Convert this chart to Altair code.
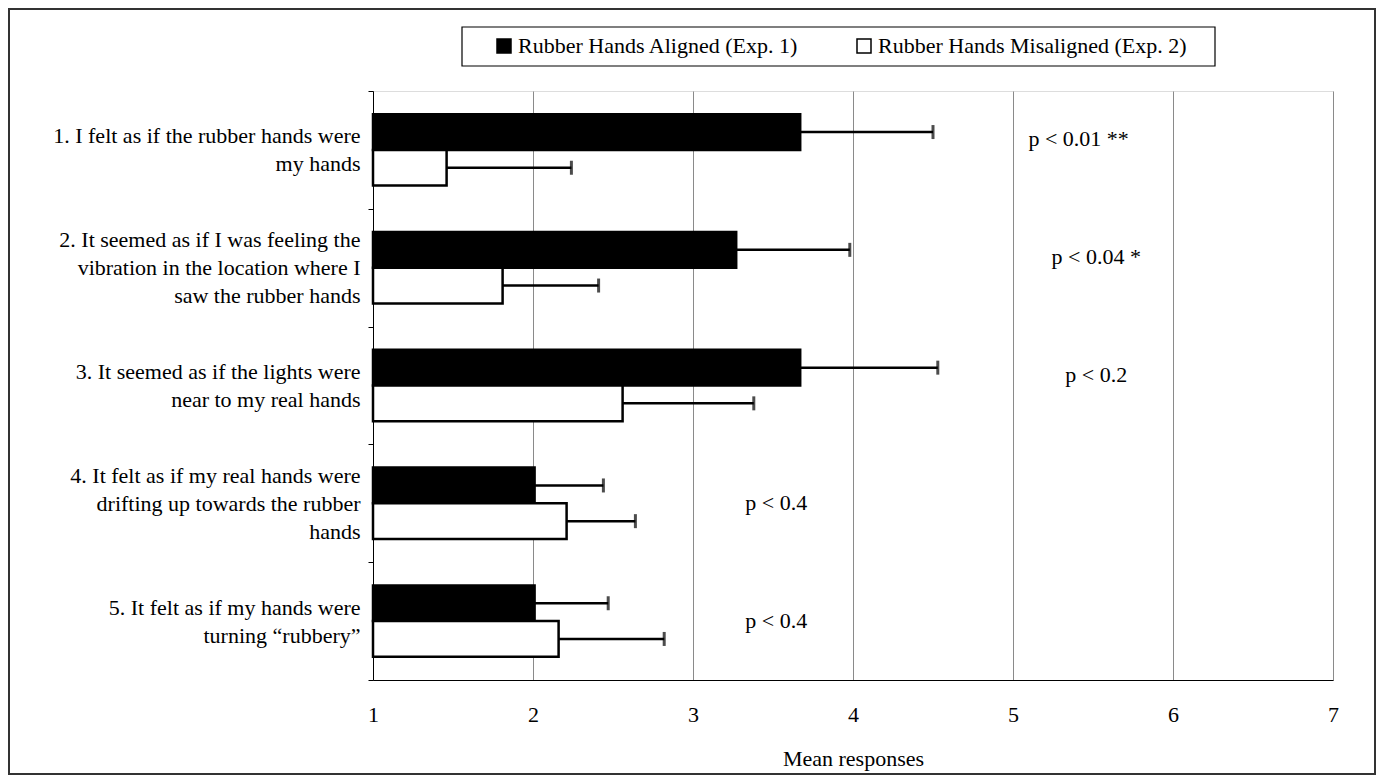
import altair as alt
import pandas as pd

categories = [
    "1. I felt as if the rubber hands were|my hands",
    "2. It seemed as if I was feeling the|vibration in the location where I|saw the rubber hands",
    "3. It seemed as if the lights  were|near to my real hands",
    "4. It felt as if my real hands were|drifting up towards the rubber|hands",
    "5. It felt as if my hands were|turning \u201crubbery\u201d",
]
series = ["Rubber Hands Aligned (Exp. 1)", "Rubber Hands Misaligned (Exp. 2)"]
aligned_mean = [3.67, 3.27, 3.67, 2.01, 2.01]
aligned_err_end = [4.50, 3.98, 4.53, 2.44, 2.47]
misaligned_mean = [1.46, 1.81, 2.56, 2.21, 2.16]
misaligned_err_end = [2.24, 2.41, 3.38, 2.64, 2.82]
p_labels = ["p < 0.01 **", "p < 0.04 *", "p < 0.2", "p < 0.4", "p < 0.4"]
p_x = [5.41, 5.52, 5.52, 3.52, 3.52]
x_ticks = [1, 2, 3, 4, 5, 6, 7]

rows = []
for i, c in enumerate(categories):
    rows.append({"cat": c, "series": series[0], "base": 1, "mean": aligned_mean[i], "err": aligned_err_end[i]})
    rows.append({"cat": c, "series": series[1], "base": 1, "mean": misaligned_mean[i], "err": misaligned_err_end[i]})
df = pd.DataFrame(rows)

pdf = pd.DataFrame({"cat": categories, "x": p_x, "label": p_labels})

FONT = "Liberation Serif"
FS = 22
W, H = 960, 589

yscale = alt.Scale(domain=categories, paddingInner=0, paddingOuter=0)
ysort = categories
xscale = alt.Scale(domain=[1, 7], nice=False, zero=False)

label_offset = {
    "condition": {"test": "length(split(datum.value, '|')) >= 3", "value": -28},
    "value": -14,
}

y_enc = alt.Y("cat:N", sort=ysort, scale=yscale, title=None,
              axis=alt.Axis(labelExpr="split(datum.label, '|')", labelFont=FONT, labelFontSize=FS,
                            labelLineHeight=28, labelLimit=500, labelAlign="right",
                            labelPadding=8, tickSize=5, tickBand="extent", tickColor="black",
                            domainColor="black", labelColor="black", grid=False,
                            labelOffset=label_offset))
yoff = alt.YOffset("series:N", sort=series, scale=alt.Scale(domain=series, paddingOuter=0.65, paddingInner=0))

x_axis = alt.Axis(values=x_ticks, format="d", grid=True, gridColor="#8a8a8a", gridWidth=1, ticks=False,
                  domainColor="black", labelFont=FONT, labelFontSize=FS, labelPadding=24,
                  labelFlush=False,
                  labelColor="black", title="Mean responses", titleFont=FONT, titleFontSize=FS,
                  titleFontWeight="normal", titlePadding=23, titleColor="black")

bars = alt.Chart(df).mark_bar(stroke="black", strokeWidth=2.5).encode(
    x=alt.X("base:Q", scale=xscale, axis=x_axis),
    x2="mean:Q",
    y=y_enc,
    yOffset=yoff,
    fill=alt.Fill("series:N", sort=series,
                  scale=alt.Scale(domain=series, range=["black", "white"]),
                  legend=alt.Legend(title=None, orient="none", legendX=120, legendY=-56,
                                    direction="horizontal", symbolType="square", symbolSize=196,
                                    symbolStrokeColor="black", symbolStrokeWidth=1.5,
                                    labelFont=FONT, labelFontSize=FS, labelColor="black",
                                    labelOffset=3, columnPadding=54, padding=0, labelLimit=500)),
)

errs = alt.Chart(df).mark_rule(color="black", strokeWidth=2.5).encode(
    x=alt.X("mean:Q", scale=xscale), x2="err:Q", y=alt.Y("cat:N", sort=ysort, scale=yscale), yOffset=yoff)

caps = alt.Chart(df).mark_tick(color="black", thickness=3, size=14, orient="vertical").encode(
    x=alt.X("err:Q", scale=xscale), y=alt.Y("cat:N", sort=ysort, scale=yscale), yOffset=yoff)

ptext_top = alt.Chart(pdf.iloc[:3]).mark_text(font=FONT, fontSize=FS, color="black", dy=-11).encode(
    x=alt.X("x:Q", scale=xscale), y=alt.Y("cat:N", sort=ysort, scale=yscale), text="label:N")
ptext_low = alt.Chart(pdf.iloc[3:]).mark_text(font=FONT, fontSize=FS, color="black", dy=0).encode(
    x=alt.X("x:Q", scale=xscale), y=alt.Y("cat:N", sort=ysort, scale=yscale), text="label:N")

one = pd.DataFrame({"a": [0]})
legend_box = alt.Chart(one).mark_rect(fill="white", fillOpacity=0, stroke="black", strokeWidth=1.2).encode(
    x=alt.value(89), x2=alt.value(842), y=alt.value(-64), y2=alt.value(-25))
outer_box = alt.Chart(one).mark_rect(fill="white", fillOpacity=0, stroke="#333", strokeWidth=2).encode(
    x=alt.value(-364), x2=alt.value(1002), y=alt.value(-82), y2=alt.value(683))

chart = alt.layer(bars, errs, caps, ptext_top, ptext_low, legend_box, outer_box).properties(
    width=W, height=H,
    autosize=alt.AutoSizeParams(type="none"),
    padding={"left": 365, "top": 83, "right": 43, "bottom": 96},
).configure_view(stroke="#222", strokeWidth=1).configure(background="white")

chart.save("out.html", embed_options={"renderer": "svg", "actions": False})
